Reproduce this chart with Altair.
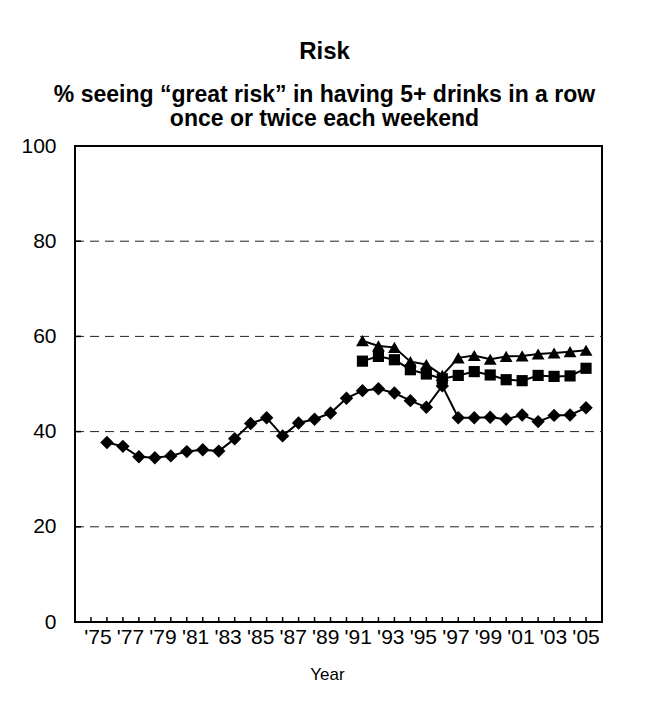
import altair as alt
import pandas as pd

# ---- data ----
years_12 = list(range(1975, 2006))
grade12 = [37.7, 36.9, 34.7, 34.5, 34.9, 35.8, 36.2, 35.9, 38.5, 41.7, 42.9, 39.1,
           41.8, 42.6, 43.9, 47.0, 48.6, 49.0, 48.1, 46.5, 45.1, 49.6, 42.9, 42.9,
           43.0, 42.6, 43.5, 42.1, 43.4, 43.5, 45.0]
years_810 = list(range(1991, 2006))
grade10 = [54.8, 55.8, 55.1, 53.0, 52.1, 51.1, 51.8, 52.6, 51.9, 50.9, 50.7, 51.8,
           51.6, 51.7, 53.3]
grade8 = [59.1, 58.0, 57.7, 54.7, 54.1, 51.8, 55.5, 56.0, 55.2, 55.8, 55.9, 56.3,
          56.5, 56.8, 57.1]

label_years = list(range(1975, 2006, 2))
tick_labels = ["'75", "'77", "'79", "'81", "'83", "'85", "'87", "'89", "'91", "'93",
               "'95", "'97", "'99", "'01", "'03", "'05"]
x_ticks = list(range(1974, 2006))
y_ticks = [20, 40, 60, 80]

title = "Risk"
subtitle = ["% seeing \u201cgreat risk\u201d in having 5+ drinks in a row",
            "once or twice each weekend"]
x_title = "Year"

FONT = "Liberation Sans"
W, H = 527, 476

df12 = pd.DataFrame({"year": years_12, "value": grade12})
df10 = pd.DataFrame({"year": years_810, "value": grade10})
df8 = pd.DataFrame({"year": years_810, "value": grade8})
df_lab = pd.DataFrame({"year": label_years, "label": tick_labels})
df_xt = pd.DataFrame({"year": x_ticks})
df_yt = pd.DataFrame({"value": y_ticks})

xscale = alt.Scale(domain=[1973, 2006], nice=False, zero=False)
yscale = alt.Scale(domain=[0, 100], nice=False)

X = alt.X("year:Q", scale=xscale,
          axis=alt.Axis(labels=False, ticks=False, domain=False, grid=False,
                        title=x_title, titleFontSize=17, titleFontWeight="normal",
                        titleFont=FONT, titleColor="black", titlePadding=44,
                        titleX=252))
Y = alt.Y("value:Q", scale=yscale,
          axis=alt.Axis(values=[0, 20, 40, 60, 80, 100], ticks=False, domain=False,
                        grid=False, labelFontSize=21, labelFont=FONT,
                        labelColor="black", labelPadding=19, title=None))


def series(df, shape, size):
    base = alt.Chart(df).encode(x=X, y=Y)
    line = base.mark_line(color="black", strokeWidth=2)
    pts = base.mark_point(filled=True, shape=shape, size=size, color="black", opacity=1)
    return [line, pts]


grid = alt.Chart(df_yt).mark_rule(color="#222", strokeWidth=1, strokeDash=[9, 6]).encode(
    y=Y, x=alt.value(0), x2=alt.value(W))

layers = [grid]
layers += series(df12, "diamond", 180)
layers += series(df10, "square", 125)
layers += series(df8, "triangle-up", 165)

xt = alt.Chart(df_xt).mark_rule(color="black", strokeWidth=1.5).encode(
    x=X, y=alt.value(H), y2=alt.value(H - 5))
yt = alt.Chart(df_yt).mark_rule(color="black", strokeWidth=1.5).encode(
    y=Y, x=alt.value(0), x2=alt.value(6))

main = alt.layer(*layers, xt, yt)

labels = alt.Chart(df_lab).mark_text(fontSize=21, font=FONT, color="black",
                                     baseline="middle", align="center").encode(
    x=alt.X("year:Q", scale=alt.Scale(domain=[1973.59, 2005.98], nice=False, zero=False),
            axis=None),
    y=alt.value(H + 16),
    text="label:N")

chart = alt.layer(main, labels).resolve_scale(x="independent").properties(
    width=W, height=H,
    background="white",
    autosize=alt.AutoSizeParams(type="none"),
    padding={"left": 67, "top": 138, "right": 40, "bottom": 87},
    title=alt.TitleParams(text=title, subtitle=subtitle, font=FONT, fontSize=24,
                          fontWeight="bold", color="black", subtitleFont=FONT,
                          subtitleFontSize=23, subtitleFontWeight="bold",
                          subtitleColor="black", subtitleLineHeight=24,
                          subtitlePadding=20, anchor="middle", dx=-14, offset=4),
).configure_view(stroke="black", strokeWidth=2)

chart.save("out.html", embed_options={"renderer": "svg", "actions": False})
